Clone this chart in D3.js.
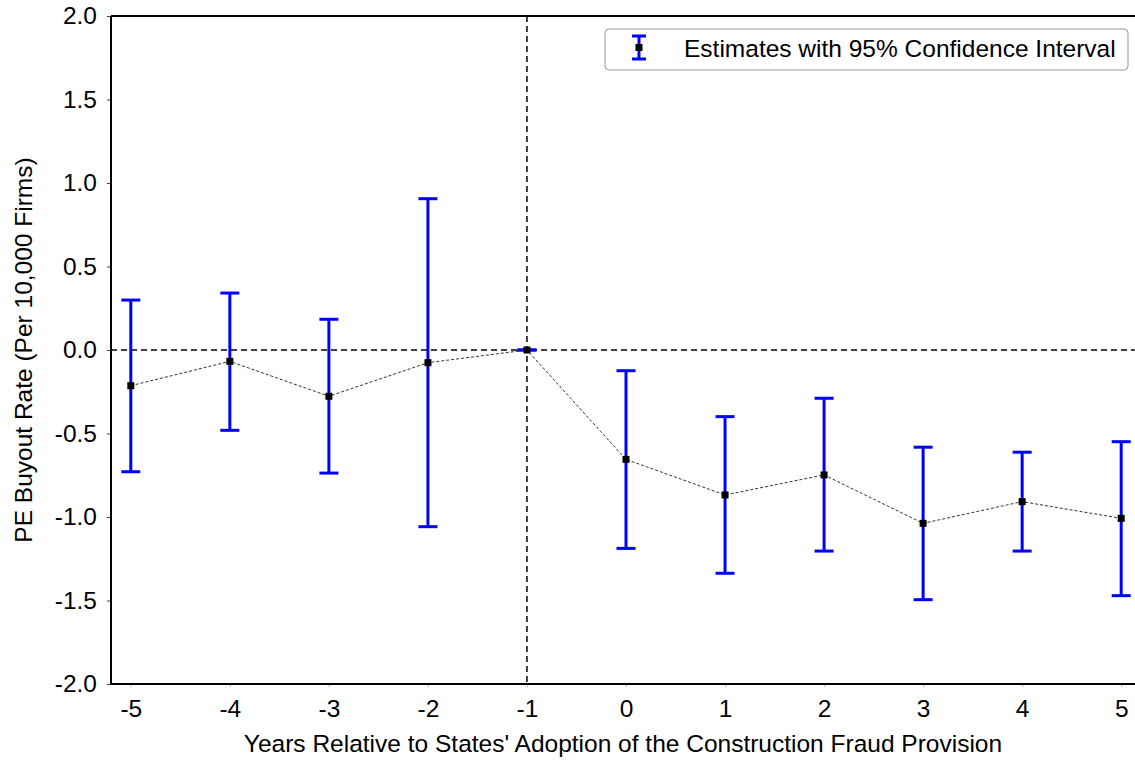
<!DOCTYPE html>
<html><head><meta charset="utf-8">
<script src="https://cdn.jsdelivr.net/npm/d3@7"></script>
<style>body{margin:0;background:#fff}svg{display:block}text{font-family:"Liberation Sans",Arial,sans-serif}</style>
</head><body>
<svg id="c" width="1135" height="760"></svg>
<script>
const years = [-5,-4,-3,-2,-1,0,1,2,3,4,5];
const estimates = [-0.214,-0.068,-0.277,-0.076,0,-0.655,-0.868,-0.748,-1.038,-0.908,-1.008];
const upper = [0.299,0.341,0.184,0.906,0,-0.124,-0.399,-0.289,-0.582,-0.612,-0.549];
const lower = [-0.729,-0.481,-0.737,-1.058,0,-1.188,-1.337,-1.204,-1.495,-1.204,-1.471];
const yTicks = [-2.0,-1.5,-1.0,-0.5,0.0,0.5,1.0,1.5,2.0];
const xTicks = [-5,-4,-3,-2,-1,0,1,2,3,4,5];
const legendLabel = "Estimates with 95% Confidence Interval";
const xTitle = "Years Relative to States' Adoption of the Construction Fraud Provision";
const yTitle = "PE Buyout Rate (Per 10,000 Firms)";

const FS = 24.5;
const svg = d3.select("#c");
const L=111, R=1141, T=16, B=684;
const x = d3.scaleLinear().domain([-5.2,5.2]).range([L,R]);
const y = d3.scaleLinear().domain([-2,2]).range([B,T]);
const data = years.map((d,i)=>({x:d,y:estimates[i],hi:upper[i],lo:lower[i]}));

// reference lines
svg.append("line").attr("x1",L).attr("x2",R).attr("y1",y(0)).attr("y2",y(0))
  .attr("stroke","#000").attr("stroke-width",1.5).attr("stroke-dasharray","6,4");
svg.append("line").attr("x1",x(-1)).attr("x2",x(-1)).attr("y1",T).attr("y2",B)
  .attr("stroke","#000").attr("stroke-width",1.5).attr("stroke-dasharray","6,4");

// error bars
const eb = svg.append("g").attr("stroke","#0000ff").attr("stroke-width",3);
data.forEach(d=>{
  eb.append("line").attr("x1",x(d.x)).attr("x2",x(d.x)).attr("y1",y(d.hi)).attr("y2",y(d.lo));
  eb.append("line").attr("x1",x(d.x)-9.5).attr("x2",x(d.x)+9.5).attr("y1",y(d.hi)).attr("y2",y(d.hi));
  eb.append("line").attr("x1",x(d.x)-9.5).attr("x2",x(d.x)+9.5).attr("y1",y(d.lo)).attr("y2",y(d.lo));
});

// connecting line
svg.append("path").datum(data)
  .attr("d",d3.line().x(d=>x(d.x)).y(d=>y(d.y)))
  .attr("fill","none").attr("stroke","#333").attr("stroke-width",1).attr("stroke-dasharray","3,2");

// markers
svg.selectAll("rect.m").data(data).enter().append("rect")
  .attr("x",d=>x(d.x)-3.5).attr("y",d=>y(d.y)-3.5).attr("width",7).attr("height",7).attr("fill","#000");

// axes
const xAxis = svg.append("g").attr("transform",`translate(0,${B})`)
  .call(d3.axisBottom(x).tickValues(xTicks).tickSize(3).tickPadding(13).tickFormat(d=>String(d)));
xAxis.select(".domain").remove();
xAxis.selectAll(".tick line").attr("stroke","#bbb");
xAxis.selectAll("text").attr("font-size",FS).attr("fill","#000");
const yAxis = svg.append("g").attr("transform",`translate(${L},0)`)
  .call(d3.axisLeft(y).tickValues(yTicks).tickSize(4).tickPadding(10).tickFormat(d=>d.toFixed(1)));
yAxis.select(".domain").remove();
yAxis.selectAll(".tick line").attr("stroke","#444");
yAxis.selectAll("text").attr("font-size",FS).attr("fill","#000");

// spines
svg.append("line").attr("x1",L).attr("x2",L).attr("y1",T).attr("y2",B).attr("stroke","#000").attr("stroke-width",2);
svg.append("line").attr("x1",L).attr("x2",R).attr("y1",B).attr("y2",B).attr("stroke","#000").attr("stroke-width",2);
svg.append("line").attr("x1",L).attr("x2",R).attr("y1",T).attr("y2",T).attr("stroke","#000").attr("stroke-width",2);

// titles
svg.append("text").attr("x",(L+1135)/2).attr("y",752).attr("text-anchor","middle")
  .attr("font-size",FS).text(xTitle);
svg.append("text").attr("transform",`translate(32,350) rotate(-90)`).attr("text-anchor","middle")
  .attr("font-size",FS).text(yTitle);

// legend
const lg = svg.append("g");
lg.append("rect").attr("x",605).attr("y",29).attr("width",523).attr("height",41).attr("rx",4)
  .attr("fill","#fff").attr("stroke","#999").attr("stroke-width",1);
const lx=639, ly1=36, ly2=59;
lg.append("line").attr("x1",lx).attr("x2",lx).attr("y1",ly1).attr("y2",ly2).attr("stroke","#0000ff").attr("stroke-width",3);
lg.append("line").attr("x1",lx-7).attr("x2",lx+7).attr("y1",ly1).attr("y2",ly1).attr("stroke","#0000ff").attr("stroke-width",3);
lg.append("line").attr("x1",lx-7).attr("x2",lx+7).attr("y1",ly2).attr("y2",ly2).attr("stroke","#0000ff").attr("stroke-width",3);
lg.append("rect").attr("x",lx-3.5).attr("y",(ly1+ly2)/2-3.5).attr("width",7).attr("height",7).attr("fill","#000");
lg.append("text").attr("x",684).attr("y",57).attr("font-size",FS).text(legendLabel);
</script>
</body></html>
